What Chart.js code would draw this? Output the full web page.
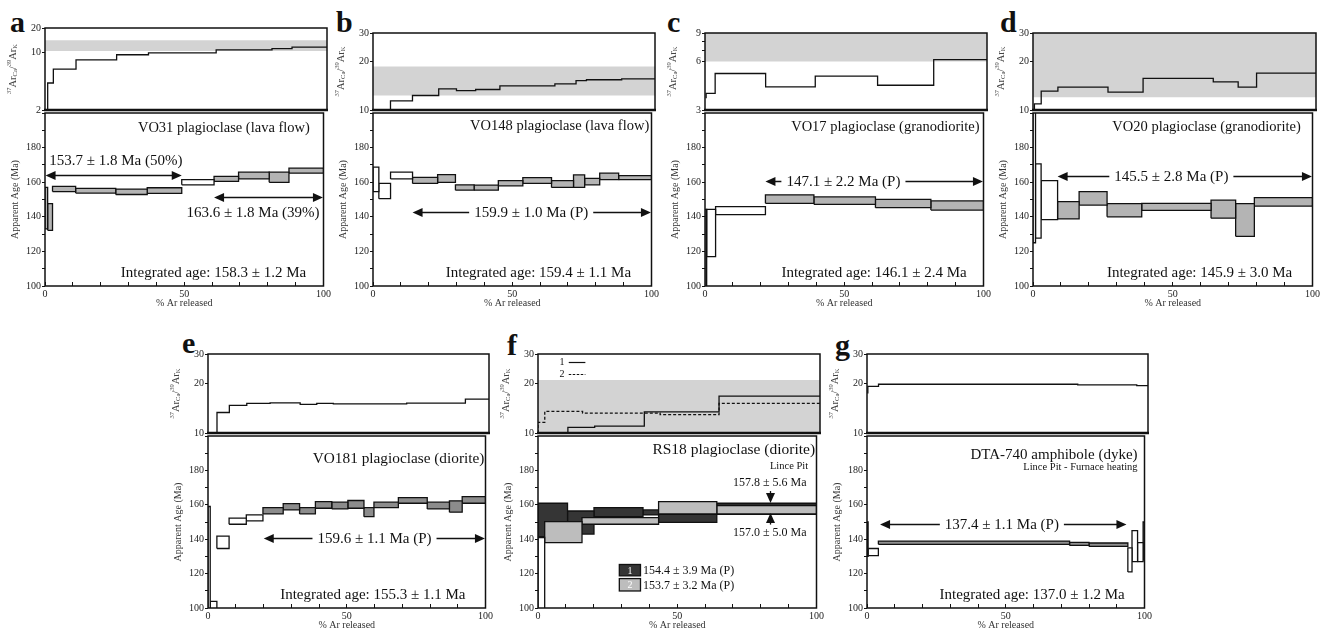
<!DOCTYPE html>
<html>
<head>
<meta charset="utf-8">
<script src="https://cdn.jsdelivr.net/npm/chart.js@4.4.1/dist/chart.umd.min.js"></script>
<style>
body { margin: 0; background: #fff; width: 1333px; height: 632px; overflow: hidden; position: relative; }
canvas { position: absolute; }
.lt { position: absolute; font: bold 30px 'Liberation Serif', serif; line-height: 30px; color: #111; }
</style>
</head>
<body>
<div class="lt" style="left:10px;top:7px">a</div>
<div class="lt" style="left:336px;top:7px">b</div>
<div class="lt" style="left:667px;top:7px">c</div>
<div class="lt" style="left:1000px;top:7px">d</div>
<div class="lt" style="left:182px;top:328px">e</div>
<div class="lt" style="left:507px;top:330px">f</div>
<div class="lt" style="left:835px;top:330px">g</div>
<script>
// shared tick labels
const pctLabels = [0, 50, 100];
const ageLabels = [100, 120, 140, 160, 180];

// a - VO31 plagioclase
const aAgeX = [0, 0.95, 2.7, 11.0, 25.4, 36.7, 49.1, 60.7, 69.5, 80.5, 87.6, 100];
const aAgeHi = [157.0, 147.6, 157.6, 156.4, 156.0, 156.8, 161.5, 163.4, 165.8, 165.8, 168.1];
const aAgeLo = [133.0, 132.2, 154.6, 153.7, 152.9, 153.5, 158.5, 160.5, 161.9, 159.9, 165.2];
const aPlateau = [1, 1, 1, 1, 1, 1, 0, 1, 1, 1, 1];
const aRatioX = [0.95, 2.96, 11.0, 25.4, 36.7, 60.7, 80.5, 87.6, 100];
const aRatio = [4.27, 6.29, 8.18, 9.44, 9.97, 10.8, 11.2, 11.7];
const aBand = [10.5, 14.2];
const aRatioTicks = [2, 10, 20];

// b - VO148 plagioclase
const bAgeX = [0, 2.1, 6.3, 14.2, 23.2, 29.6, 36.3, 45.0, 53.8, 64.1, 72.0, 76.0, 81.4, 88.2, 100];
const bAgeHi = [168.7, 159.3, 165.8, 162.8, 164.4, 158.5, 158.3, 160.9, 162.6, 160.9, 164.2, 162.2, 165.2, 163.8];
const bAgeLo = [154.5, 150.5, 161.9, 159.3, 159.9, 155.4, 155.4, 157.9, 159.3, 157.0, 157.0, 158.5, 161.5, 161.5];
const bPlateau = [0, 0, 0, 1, 1, 1, 1, 1, 1, 1, 1, 1, 1, 1];
const bRatioX = [6.2, 14.0, 23.3, 29.6, 36.4, 45.0, 64.5, 72.0, 75.7, 88.2, 100];
const bRatio = [11.4, 12.3, 13.5, 13.2, 13.4, 14.1, 14.5, 15.2, 15.4, 15.6];
const bBand = [12.3, 18.6];
const bRatioTicks = [10, 20, 30];

// c - VO17 plagioclase
const cAgeX = [0, 0.6, 3.8, 21.7, 39.1, 61.2, 81.1, 100];
const cAgeHi = [144.3, 144.3, 145.9, 152.7, 151.5, 150.1, 149.2];
const cAgeLo = [98.0, 117.0, 141.2, 147.8, 147.2, 145.3, 143.9];
const cPlateau = [0, 0, 0, 1, 1, 1, 1];
const cRatioX = [0.4, 3.6, 21.5, 39.1, 61.2, 81.1, 100];
const cRatio = [3.8, 5.05, 4.17, 4.87, 4.27, 6.15];
const cBand = [6, 9];
const cRatioTicks = [3, 6, 7, 8, 9];
const cRatioLabels = [3, 6, 9];

// d - VO20 plagioclase
const dAgeX = [0, 0.9, 2.9, 8.8, 16.5, 26.5, 38.9, 63.7, 72.5, 79.2, 100];
const dAgeHi = [215.0, 170.6, 160.9, 148.8, 154.6, 147.6, 147.8, 149.6, 147.6, 151.1];
const dAgeLo = [125.0, 127.7, 138.4, 138.8, 146.8, 140.0, 143.7, 139.2, 128.7, 146.2];
const dPlateau = [0, 0, 0, 1, 1, 1, 1, 1, 1, 1];
const dRatioX = [0.5, 2.9, 8.8, 26.5, 38.9, 63.7, 72.5, 79.0, 100];
const dRatio = [10.9, 13.1, 13.85, 12.9, 15.7, 14.95, 13.85, 16.9];
const dBand = [12.0, 30];

// e - VO181 plagioclase
const eAgeX = [0, 0.8, 3.2, 7.6, 13.8, 19.8, 27.1, 33.0, 38.7, 44.6, 50.4, 56.2, 59.8, 68.6, 79.0, 87.0, 91.6, 100];
const eAgeHi = [159.0, 103.9, 141.8, 152.2, 154.1, 158.4, 160.7, 158.4, 161.9, 161.5, 162.5, 158.4, 161.5, 164.2, 161.5, 162.3, 164.8];
const eAgeLo = [98.0, 99.6, 134.6, 148.7, 150.6, 154.7, 157.0, 154.7, 158.0, 157.6, 158.0, 153.1, 158.4, 160.9, 157.6, 155.7, 160.9];
const ePlateau = [0, 0, 0, 0, 0, 1, 1, 1, 1, 1, 1, 1, 1, 1, 1, 1, 1];
const eRatioX = [3.2, 7.6, 13.8, 22.1, 32.8, 38.7, 44.6, 70.7, 91.6, 100];
const eRatio = [13.3, 14.7, 15.1, 15.2, 14.9, 15.1, 15.0, 15.15, 16.0];

// f - RS18 plagioclase, two aliquots
const fAgeX1 = [0, 10.6, 20.1, 37.7, 43.3, 64.2, 100];
const fAgeHi1 = [160.9, 156.4, 158.4, 157.0, 154.5, 160.9];
const fAgeLo1 = [141.5, 143.0, 153.1, 154.1, 149.8, 154.5];
const fAgeX2 = [0, 2.4, 15.8, 43.3, 64.2, 100];
const fAgeHi2 = [141.0, 150.2, 152.6, 161.9, 159.6];
const fAgeLo2 = [98.0, 138.0, 148.7, 154.7, 154.7];
const fPlateau2 = [0, 1, 1, 1, 1];
const fRatioX1 = [0, 10.6, 20.1, 37.7, 64.2, 100];
const fRatio1 = [10.0, 10.8, 11.0, 13.4, 16.7];
const fRatioX2 = [0, 2.4, 15.8, 43.3, 64.2, 100];
const fRatio2 = [11.6, 13.5, 13.2, 12.9, 15.1];
const fBand = [10, 20.9];

// g - DTA-740 amphibole
const gAgeX = [0, 0.4, 4.1, 73, 80, 94, 95.5, 97.5, 99.5, 100];
const gAgeHi = [150.0, 134.6, 138.9, 138.2, 137.8, 135.0, 145.0, 138.0, 150.0];
const gAgeLo = [130.0, 130.4, 137.0, 136.4, 135.8, 121.0, 127.0, 127.0, 128.0];
const gPlateau = [0, 0, 1, 1, 1, 0, 0, 0, 0];
const gRatioX = [0.3, 4.1, 75, 96, 100];
const gRatio = [19.1, 19.7, 19.55, 19.35];
const gRatioStart = 17.3;

const FONT = "'Liberation Serif', 'Times New Roman', serif";
Chart.defaults.font.family = FONT;
Chart.defaults.color = '#222';

const GREY = '#b4b4b4', BAND = '#d3d3d3', EGREY = '#8c8c8c';
const FDARK = '#353535', FLIGHT = '#bdbdbd', GGREY = '#8f8f8f';

const layout = {
  a: {L: 45, R: 327, T: 28, M: 113, B: 286},
  b: {L: 373, R: 655, T: 33, M: 113, B: 286},
  c: {L: 705, R: 987, T: 33, M: 113, B: 286},
  d: {L: 1033, R: 1316, T: 33, M: 113, B: 286},
  e: {L: 208, R: 489, T: 354, M: 436, B: 608},
  f: {L: 538, R: 820, T: 354, M: 436, B: 608},
  g: {L: 867, R: 1148, T: 354, M: 436, B: 608}
};

function stepPoints(xs, vs, start) {
  const pts = [{x: xs[0], y: start}];
  vs.forEach((v, i) => { pts.push({x: xs[i], y: v}, {x: xs[i + 1], y: v}); });
  return pts;
}
function boxPoints(x0, x1, lo, hi) {
  return [{x: x0, y: lo}, {x: x0, y: hi}, {x: x1, y: hi}, {x: x1, y: lo}, {x: x0, y: lo}];
}
function boxSets(xs, hi, lo, plat, colP, colN, order) {
  return hi.map((h, i) => ({
    data: boxPoints(xs[i], xs[i + 1], lo[i], h),
    borderColor: '#111', borderWidth: 1.3, borderJoinStyle: 'miter',
    backgroundColor: plat[i] ? colP : colN,
    fill: 'shape', pointRadius: 0, order: order
  }));
}
function bandSet(b) {
  return {data: boxPoints(0, 100, b[0], b[1]), borderWidth: 0, borderColor: 'rgba(0,0,0,0)',
          backgroundColor: BAND, fill: 'shape', pointRadius: 0, order: 90};
}
function lineSet(xs, vs, start, dash) {
  return {data: stepPoints(xs, vs, start), borderColor: '#111', borderWidth: 1.3,
          borderDash: dash || [], fill: false, pointRadius: 0, order: 1};
}

function makeCanvas(left, top, w, h) {
  const c = document.createElement('canvas');
  c.width = w; c.height = h;
  c.style.left = left + 'px'; c.style.top = top + 'px';
  c.style.width = w + 'px'; c.style.height = h + 'px';
  document.body.appendChild(c);
  return c.getContext('2d');
}

function head(ctx, x, y, dx, dy) {
  ctx.beginPath();
  ctx.moveTo(x, y);
  ctx.lineTo(x - dx * 10 - dy * 4.5, y - dy * 10 - dx * 4.5);
  ctx.lineTo(x - dx * 10 + dy * 4.5, y - dy * 10 + dx * 4.5);
  ctx.closePath();
  ctx.fill();
}

function drawRatioTitle(ctx, cx, cy) {
  const parts = [['37', 6.5, -3.5], ['Ar', 10.5, 0], ['Ca', 6.5, 2.5], ['/', 10.5, 0],
                 ['39', 6.5, -3.5], ['Ar', 10.5, 0], ['K', 6.5, 2.5]];
  ctx.save();
  ctx.translate(cx, cy);
  ctx.rotate(-Math.PI / 2);
  let w = 0;
  parts.forEach(p => { ctx.font = p[1] + 'px ' + FONT; w += ctx.measureText(p[0]).width; });
  let x = -w / 2;
  ctx.textBaseline = 'middle'; ctx.textAlign = 'left'; ctx.fillStyle = '#444';
  parts.forEach(p => {
    ctx.font = p[1] + 'px ' + FONT;
    ctx.fillText(p[0], x, p[2]);
    x += ctx.measureText(p[0]).width;
  });
  ctx.restore();
}

// draws frame, arrows and text notes through the chart's own scales
function makeDecor(n) {
  return {
    id: 'decor',
    afterDatasetsDraw(chart) {
      const {ctx, chartArea: ca} = chart;
      const sx = chart.scales.x, sy = chart.scales.y;
      const X = v => sx.getPixelForValue(v), Y = v => sy.getPixelForValue(v);
      ctx.save();
      ctx.fillStyle = '#111'; ctx.strokeStyle = '#111';

      (n.arrows || []).forEach(a => {
        const y = Math.round(Y(a.y)) + 0.5, x1 = X(a.x1), x2 = X(a.x2);
        ctx.lineWidth = 1.3;
        ctx.beginPath(); ctx.moveTo(x1 + 5, y); ctx.lineTo(x2 - 5, y); ctx.stroke();
        head(ctx, x1, y, -1, 0); head(ctx, x2, y, 1, 0);
        if (a.label) {
          ctx.font = '15px ' + FONT;
          const w = ctx.measureText(a.label).width, lx = X(a.lx);
          ctx.fillStyle = '#fff';
          ctx.fillRect(lx - w / 2 - 5, y - 9, w + 10, 18);
          ctx.fillStyle = '#111';
          ctx.textAlign = 'center'; ctx.textBaseline = 'middle';
          ctx.fillText(a.label, lx, y + 1);
        }
      });

      (n.vArrows || []).forEach(a => {
        const x = Math.round(X(a.x)) + 0.5, y1 = Y(a.y1), y2 = Y(a.y2);
        const d = y2 > y1 ? 1 : -1;
        ctx.lineWidth = 1.3;
        ctx.beginPath(); ctx.moveTo(x, y1); ctx.lineTo(x, y2 - d * 5); ctx.stroke();
        head(ctx, x, y2, 0, d);
      });

      (n.boxes || []).forEach(b => {
        const x0 = X(b.x0), x1 = X(b.x1), y0 = Y(b.hi), y1 = Y(b.lo);
        ctx.fillStyle = b.color; ctx.fillRect(x0, y0, x1 - x0, y1 - y0);
        ctx.lineWidth = 1.3; ctx.strokeStyle = '#111'; ctx.strokeRect(x0, y0, x1 - x0, y1 - y0);
        ctx.fillStyle = '#fff'; ctx.font = '10px ' + FONT;
        ctx.textAlign = 'center'; ctx.textBaseline = 'middle';
        ctx.fillText(b.num, (x0 + x1) / 2, (y0 + y1) / 2 + 1);
        ctx.fillStyle = '#111'; ctx.font = '12px ' + FONT; ctx.textAlign = 'left';
        ctx.fillText(b.label, X(b.tx), (y0 + y1) / 2 + 1);
      });

      (n.keys || []).forEach(k => {
        const y = Math.round(Y(k.y)) + 0.5;
        ctx.fillStyle = '#111'; ctx.font = '10px ' + FONT;
        ctx.textAlign = 'center'; ctx.textBaseline = 'middle';
        ctx.fillText(k.num, X(k.tx), y);
        ctx.lineWidth = 1.2; ctx.setLineDash(k.dash || []);
        ctx.beginPath(); ctx.moveTo(X(k.x0), y); ctx.lineTo(X(k.x1), y); ctx.stroke();
        ctx.setLineDash([]);
      });

      (n.texts || []).forEach(t => {
        ctx.fillStyle = '#111';
        ctx.font = t.size + 'px ' + FONT;
        ctx.textAlign = t.align || 'center'; ctx.textBaseline = 'middle';
        ctx.fillText(t.t, X(t.x), Y(t.y));
      });

      if (n.ratioTitle) drawRatioTitle(ctx, ca.left - 32, (ca.top + ca.bottom) / 2);

      ctx.lineWidth = 1.5; ctx.strokeStyle = '#111';
      ctx.strokeRect(ca.left, ca.top, ca.right - ca.left, ca.bottom - ca.top);
      if (n.ratioTitle) {
        ctx.lineWidth = 2.6;
        ctx.beginPath(); ctx.moveTo(ca.left - 1, ca.bottom); ctx.lineTo(ca.right + 1, ca.bottom); ctx.stroke();
      }
      ctx.restore();
    }
  };
}

function ratioChart(g, r, sets, notes) {
  const ctx = makeCanvas(g.L - 45, g.T - 10, g.R - g.L + 55, g.M - g.T + 14);
  notes.ratioTitle = true;
  return new Chart(ctx, {
    type: 'line',
    data: {datasets: sets},
    options: {
      responsive: false, animation: false, devicePixelRatio: 1,
      layout: {padding: {left: 0, top: 10, right: 10, bottom: 4}},
      elements: {point: {radius: 0}, line: {tension: 0}},
      plugins: {legend: {display: false}, tooltip: {enabled: false}},
      scales: {
        x: {type: 'linear', min: 0, max: 100, display: false},
        y: {type: 'logarithmic', min: r.min, max: r.max,
            afterFit: s => { s.width = 45; },
            afterBuildTicks: s => { s.ticks = r.ticks.map(v => ({value: v})); },
            border: {display: false},
            grid: {drawOnChartArea: false, tickLength: 3, color: '#111'},
            ticks: {padding: 1, color: '#222', font: {size: 10}, autoSkip: false,
                    callback: v => r.labels.includes(v) ? String(v) : ''}}
      }
    },
    plugins: [makeDecor(notes)]
  });
}

function ageChart(g, sets, notes) {
  const ctx = makeCanvas(g.L - 45, g.M - 10, g.R - g.L + 55, g.B - g.M + 40);
  return new Chart(ctx, {
    type: 'line',
    data: {datasets: sets},
    options: {
      responsive: false, animation: false, devicePixelRatio: 1,
      layout: {padding: {left: 0, top: 10, right: 10, bottom: 0}},
      elements: {point: {radius: 0}, line: {tension: 0}},
      plugins: {legend: {display: false}, tooltip: {enabled: false}},
      scales: {
        x: {type: 'linear', min: 0, max: 100,
            afterFit: s => { s.height = 30; },
            border: {display: false},
            grid: {drawOnChartArea: false, drawTicks: true, tickLength: -4, color: '#111'},
            ticks: {stepSize: 10, autoSkip: false, maxRotation: 0, padding: 6, color: '#222', font: {size: 10},
                    callback: v => pctLabels.includes(v) ? String(v) : ''},
            title: {display: true, text: '% Ar released', color: '#333', font: {size: 10}, padding: {top: 0, bottom: 7}}},
        y: {type: 'linear', min: 100, max: 200,
            afterFit: s => { s.width = 45; },
            border: {display: false},
            grid: {drawOnChartArea: false, drawTicks: true, tickLength: 3, color: '#111'},
            ticks: {stepSize: 10, autoSkip: false, padding: 1, color: '#222', font: {size: 10},
                    callback: v => ageLabels.includes(v) ? String(v) : ''},
            title: {display: true, text: 'Apparent Age (Ma)', color: '#333', font: {size: 10}, padding: {top: 9, bottom: 0}}}
      }
    },
    plugins: [makeDecor(notes)]
  });
}

const r1030 = {min: 10, max: 30, ticks: bRatioTicks, labels: bRatioTicks};

// a
ratioChart(layout.a, {min: 2, max: 20, ticks: aRatioTicks, labels: aRatioTicks},
  [bandSet(aBand), lineSet(aRatioX, aRatio, 2)], {});
ageChart(layout.a, boxSets(aAgeX, aAgeHi, aAgeLo, aPlateau, GREY, '#fff', 50), {
  arrows: [{x1: 0.2, x2: 49.1, y: 164.2}, {x1: 60.7, x2: 99.8, y: 151.5}],
  texts: [
    {t: 'VO31 plagioclase (lava flow)', x: 95.1, y: 191.3, align: 'right', size: 14.5},
    {t: '153.7 ± 1.8 Ma (50%)', x: 1.5, y: 172, align: 'left', size: 15},
    {t: '163.6 ± 1.8 Ma (39%)', x: 98.6, y: 142, align: 'right', size: 15},
    {t: 'Integrated age: 158.3 ± 1.2 Ma', x: 60.5, y: 107.5, size: 15}]
});

// b
ratioChart(layout.b, r1030, [bandSet(bBand), lineSet(bRatioX, bRatio, 10)], {});
ageChart(layout.b, boxSets(bAgeX, bAgeHi, bAgeLo, bPlateau, GREY, '#fff', 50), {
  arrows: [{x1: 14.2, x2: 99.8, y: 142.7, label: '159.9 ± 1.0 Ma (P)', lx: 56.8}],
  texts: [
    {t: 'VO148 plagioclase (lava flow)', x: 99.2, y: 192.5, align: 'right', size: 14.5},
    {t: 'Integrated age: 159.4 ± 1.1 Ma', x: 59.4, y: 107.5, size: 15}]
});

// c
ratioChart(layout.c, {min: 3, max: 9, ticks: cRatioTicks, labels: cRatioLabels},
  [bandSet(cBand), lineSet(cRatioX, cRatio, 3.55)], {});
ageChart(layout.c, boxSets(cAgeX, cAgeHi, cAgeLo, cPlateau, GREY, '#fff', 50), {
  arrows: [{x1: 21.7, x2: 99.8, y: 160.9, label: '147.1 ± 2.2 Ma (P)', lx: 49.7}],
  texts: [
    {t: 'VO17 plagioclase (granodiorite)', x: 98.6, y: 192, align: 'right', size: 14.5},
    {t: 'Integrated age: 146.1 ± 2.4 Ma', x: 60.7, y: 107.5, size: 15}]
});

// d
ratioChart(layout.d, r1030, [bandSet(dBand), lineSet(dRatioX, dRatio, 10)], {});
ageChart(layout.d, boxSets(dAgeX, dAgeHi, dAgeLo, dPlateau, GREY, '#fff', 50), {
  arrows: [{x1: 8.8, x2: 99.8, y: 163.8, label: '145.5 ± 2.8 Ma (P)', lx: 49.5}],
  texts: [
    {t: 'VO20 plagioclase (granodiorite)', x: 95.8, y: 192, align: 'right', size: 14.5},
    {t: 'Integrated age: 145.9 ± 3.0 Ma', x: 59.6, y: 107.5, size: 15}]
});

// e
ratioChart(layout.e, r1030, [lineSet(eRatioX, eRatio, 10)], {});
ageChart(layout.e, boxSets(eAgeX, eAgeHi, eAgeLo, ePlateau, EGREY, '#fff', 50), {
  arrows: [{x1: 20.1, x2: 99.8, y: 140.5, label: '159.6 ± 1.1 Ma (P)', lx: 60}],
  texts: [
    {t: 'VO181 plagioclase (diorite)', x: 99.6, y: 186.6, align: 'right', size: 15.3},
    {t: 'Integrated age: 155.3 ± 1.1 Ma', x: 59.4, y: 107.5, size: 15}]
});

// f
ratioChart(layout.f, r1030,
  [bandSet(fBand), lineSet(fRatioX1, fRatio1, 10), lineSet(fRatioX2, fRatio2, 10, [3, 2])], {
  keys: [{num: '1', tx: 8.5, x0: 10.9, x1: 16.8, y: 26.8},
         {num: '2', tx: 8.5, x0: 10.9, x1: 16.8, y: 22.7, dash: [2.5, 1.5]}]
});
ageChart(layout.f,
  boxSets(fAgeX1, fAgeHi1, fAgeLo1, [1, 1, 1, 1, 1, 1], FDARK, FDARK, 60)
    .concat(boxSets(fAgeX2, fAgeHi2, fAgeLo2, fPlateau2, FLIGHT, '#fff', 40)), {
  vArrows: [{x: 83.2, y1: 168, y2: 161.1}, {x: 83.2, y1: 148.5, y2: 155.3}],
  boxes: [{x0: 29.2, x1: 36.8, lo: 118.7, hi: 125.3, color: FDARK, num: '1', tx: 37.7, label: '154.4 ± 3.9 Ma (P)'},
          {x0: 29.2, x1: 36.8, lo: 109.9, hi: 117.1, color: FLIGHT, num: '2', tx: 37.7, label: '153.7 ± 3.2 Ma (P)'}],
  texts: [
    {t: 'RS18 plagioclase (diorite)', x: 99.5, y: 192, align: 'right', size: 15.5},
    {t: 'Lince Pit', x: 97, y: 182.6, align: 'right', size: 10.5},
    {t: '157.8 ± 5.6 Ma', x: 83.2, y: 173, size: 12},
    {t: '157.0 ± 5.0 Ma', x: 83.2, y: 143.6, size: 12}]
});

// g
ratioChart(layout.g, r1030, [lineSet(gRatioX, gRatio, gRatioStart)], {});
ageChart(layout.g, boxSets(gAgeX, gAgeHi, gAgeLo, gPlateau, GGREY, '#fff', 50), {
  arrows: [{x1: 4.7, x2: 93.5, y: 148.7, label: '137.4 ± 1.1 Ma (P)', lx: 48.6}],
  texts: [
    {t: 'DTA-740 amphibole (dyke)', x: 97.5, y: 189, align: 'right', size: 15},
    {t: 'Lince Pit - Furnace heating', x: 97.5, y: 182, align: 'right', size: 10.5},
    {t: 'Integrated age: 137.0 ± 1.2 Ma', x: 59.5, y: 107.5, size: 15}]
});
</script>
</body>
</html>
